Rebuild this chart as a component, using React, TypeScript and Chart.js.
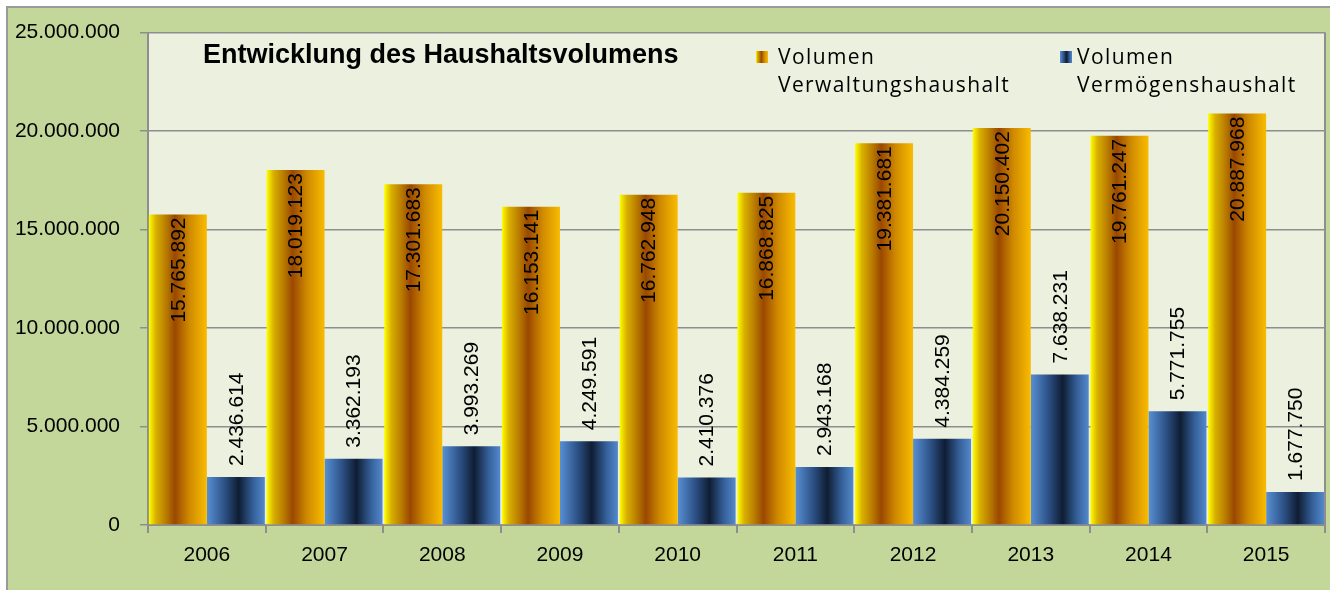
import React, { useEffect, useRef } from "react";
import { Chart, registerables } from "chart.js";

Chart.register(...registerables);

const years = ["2006", "2007", "2008", "2009", "2010", "2011", "2012", "2013", "2014", "2015"];
const verwaltung = [15765892, 18019123, 17301683, 16153141, 16762948, 16868825, 19381681, 20150402, 19761247, 20887968];
const vermoegen = [2436614, 3362193, 3993269, 4249591, 2410376, 2943168, 4384259, 7638231, 5771755, 1677750];
const seriesNames = [["Volumen", "Verwaltungshaushalt"], ["Volumen", "Vermögenshaushalt"]];
const chartTitle = "Entwicklung des Haushaltsvolumens";

const CAT_PCT = 0.985;
const GRID = "#8e8e8e";

const fmt = (v: number) => Math.round(v).toString().replace(/\B(?=(\d{3})+(?!\d))/g, ".");

function goldGrad(ctx: CanvasRenderingContext2D, x0: number, x1: number) {
  const g = ctx.createLinearGradient(x0, 0, x1, 0);
  g.addColorStop(0, "#ffff00");
  g.addColorStop(0.12, "#d8b000");
  g.addColorStop(0.3, "#b87a00");
  g.addColorStop(0.45, "#9a4800");
  g.addColorStop(0.7, "#d08a00");
  g.addColorStop(1, "#f8bc00");
  return g;
}
function blueGrad(ctx: CanvasRenderingContext2D, x0: number, x1: number) {
  const g = ctx.createLinearGradient(x0, 0, x1, 0);
  g.addColorStop(0, "#5890d4");
  g.addColorStop(0.3, "#2d5287");
  g.addColorStop(0.55, "#0f1d33");
  g.addColorStop(0.8, "#35609a");
  g.addColorStop(1, "#5389cc");
  return g;
}

const bgPlugin = {
  id: "bgPlugin",
  beforeDraw(chart: any) {
    const { ctx, chartArea: a, width, height } = chart;
    ctx.save();
    ctx.fillStyle = "#ffffff";
    ctx.fillRect(0, 0, width, height);
    ctx.fillStyle = "#c4d79b";
    ctx.fillRect(6, 6, width - 6, height - 6);
    ctx.strokeStyle = "#9a9a9a";
    ctx.lineWidth = 2;
    ctx.beginPath();
    ctx.moveTo(7, height);
    ctx.lineTo(7, 7);
    ctx.lineTo(width, 7);
    ctx.stroke();
    ctx.fillStyle = "#ebf1de";
    ctx.fillRect(a.left, a.top, a.right - a.left, a.bottom - a.top);
    ctx.restore();
  },
  afterDatasetsDraw(chart: any) {
    const { ctx } = chart;
    ctx.save();
    ctx.font = "21px 'Liberation Sans', Arial, sans-serif";
    ctx.fillStyle = "#000000";
    chart.data.datasets.forEach((ds: any, di: number) => {
      const meta = chart.getDatasetMeta(di);
      meta.data.forEach((el: any, i: number) => {
        const txt = fmt(ds.data[i]);
        ctx.save();
        if (di === 0) {
          ctx.translate(el.x + 1, el.y + 3);
          ctx.rotate(-Math.PI / 2);
          ctx.textAlign = "right";
        } else {
          ctx.translate(el.x + 1, el.y - 11);
          ctx.rotate(-Math.PI / 2);
          ctx.textAlign = "left";
        }
        ctx.textBaseline = "middle";
        ctx.fillText(txt, 0, 0);
        ctx.restore();
      });
    });
    ctx.restore();
  },
  afterDraw(chart: any) {
    const { ctx, chartArea: a } = chart;
    ctx.save();
    ctx.strokeStyle = GRID;
    ctx.lineWidth = 2;
    ctx.beginPath();
    ctx.moveTo(a.right, a.top);
    ctx.lineTo(a.right, a.bottom);
    ctx.stroke();
    // title
    ctx.fillStyle = "#000000";
    ctx.font = "bold 27px 'Liberation Sans', Arial, sans-serif";
    ctx.textAlign = "left";
    ctx.textBaseline = "alphabetic";
    ctx.fillText(chartTitle, 203, 63);
    // legend
    const items = [
      { sx: 756, tx: 778, grad: goldGrad },
      { sx: 1060, tx: 1077, grad: blueGrad },
    ];
    items.forEach((it, k) => {
      ctx.fillStyle = it.grad(ctx, it.sx, it.sx + 12);
      ctx.fillRect(it.sx, 51, 12, 12);
      ctx.fillStyle = "#000000";
      ctx.font = "21px 'Open Sans', sans-serif";
      (ctx as any).letterSpacing = "1.4px";
      ctx.fillText(seriesNames[k][0], it.tx, 64);
      ctx.fillText(seriesNames[k][1], it.tx, 92);
      (ctx as any).letterSpacing = "0px";
    });
    ctx.restore();
  },
};

function barColor(kind: number) {
  return (c: any) => {
    const chart = c.chart;
    const a = chart.chartArea;
    if (!a || c.type !== "data") return kind === 0 ? "#d09000" : "#2d5287";
    const xs = chart.scales.x;
    const center = xs.getPixelForValue(c.dataIndex);
    const bw = ((a.right - a.left) / years.length) * CAT_PCT / 2;
    const left = kind === 0 ? center - bw : center;
    return kind === 0 ? goldGrad(chart.ctx, left, left + bw) : blueGrad(chart.ctx, left, left + bw);
  };
}

export default function App() {
  const ref = useRef<HTMLCanvasElement | null>(null);
  useEffect(() => {
    if (!ref.current) return;
    const chart = new Chart(ref.current, {
      type: "bar",
      data: {
        labels: years,
        datasets: [
          { label: seriesNames[0].join(" "), data: verwaltung, backgroundColor: barColor(0) as any, borderWidth: 0 },
          { label: seriesNames[1].join(" "), data: vermoegen, backgroundColor: barColor(1) as any, borderWidth: 0 },
        ],
      },
      options: {
        responsive: false,
        animation: false,
        devicePixelRatio: 1,
        layout: { padding: { top: 28, left: 0, right: 5, bottom: 0 } },
        datasets: { bar: { categoryPercentage: CAT_PCT, barPercentage: 1 } },
        plugins: { legend: { display: false }, title: { display: false }, tooltip: { enabled: false } },
        scales: {
          x: {
            grid: { drawOnChartArea: false, drawTicks: true, tickLength: 8, color: GRID, lineWidth: 2 },
            border: { color: GRID, width: 2 },
            ticks: { color: "#000", padding: 10, font: { family: "'Liberation Sans', Arial, sans-serif", size: 21 } },
            afterFit: (s: any) => { s.height = 65; },
          },
          y: {
            min: 0,
            max: 25000000,
            grid: { color: GRID, lineWidth: 1.5, tickLength: 8 },
            border: { color: GRID, width: 2 },
            ticks: {
              stepSize: 5000000,
              color: "#000",
              padding: 20,
              font: { family: "'Liberation Sans', Arial, sans-serif", size: 21 },
              callback: (v: any) => fmt(Number(v)),
            },
            afterFit: (s: any) => { s.width = 148; },
          },
        },
      },
      plugins: [bgPlugin],
    });
    return () => chart.destroy();
  }, []);
  return (
    <div style={{ position: "absolute", left: 0, top: 0, width: 1330, height: 590 }}>
      <canvas ref={ref} width={1330} height={590} style={{ display: "block" }} />
    </div>
  );
}
